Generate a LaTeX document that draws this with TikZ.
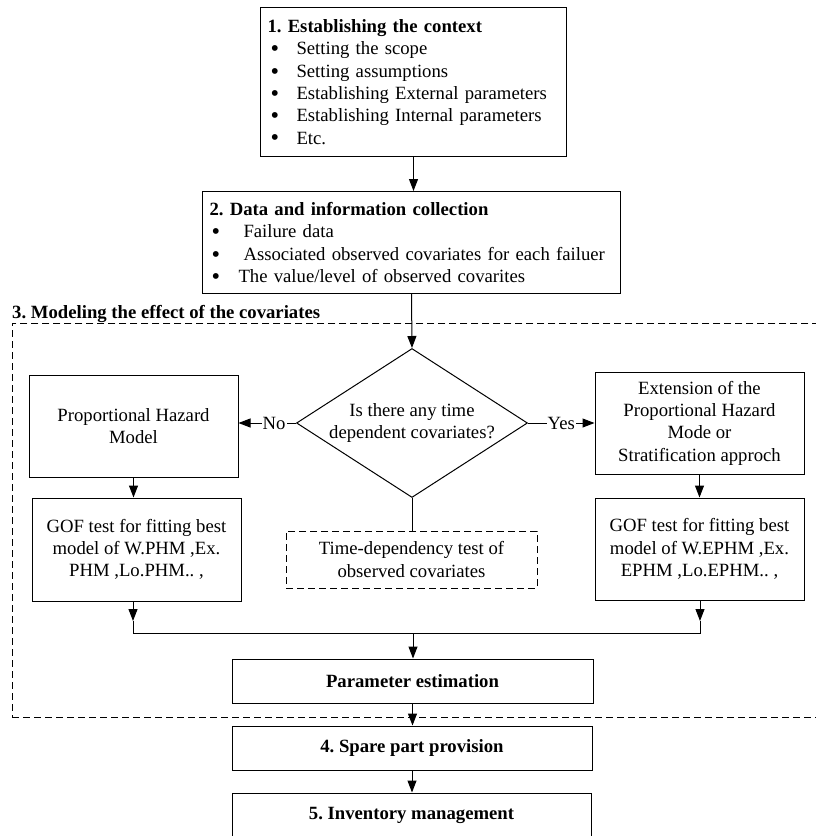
\documentclass[tikz,border=0pt]{standalone}
\usepackage{fontspec}
\setmainfont{Liberation Serif}
\usetikzlibrary{shapes.geometric,arrows.meta}
\newcommand{\myfs}{\fontsize{18.7}{22.3}\selectfont\frenchspacing}
\newcommand{\mybul}{\smash{\raisebox{-0.1em}{\scalebox{1.3}{\textbullet}}}}
\begin{document}
\begin{tikzpicture}[x=1pt,y=-1pt,
  box/.style={draw, line width=1pt, rectangle, inner sep=0pt, align=center, font=\myfs},
  listbox/.style={box, align=left, inner xsep=7pt, anchor=north west},
  dbox/.style={box, dash pattern=on 7pt off 4pt},
  arr/.style={line width=1pt, -{Triangle[length=12pt,width=9pt]}},
  ln/.style={line width=1pt},
  lbl/.style={fill=white, inner sep=1pt, font=\myfs}]
\useasboundingbox (0,0) rectangle (816,836);

% dashed group frame
\node[draw, line width=0.9pt, dash pattern=on 7pt off 4pt, rectangle, inner sep=0pt,
      minimum width=806pt, minimum height=394pt, anchor=north west] (grp) at (12,323) {};
\node[anchor=base west, inner sep=0pt, font=\myfs\bfseries] (t3) at (12,318)
  {3. Modeling the effect of the covariates};

% step 1
\node[listbox, text width=292pt, minimum height=149pt] (b1) at (260,7)
  {\textbf{1. Establishing the context}\\
   \hspace*{3pt}\makebox[26pt][l]{\mybul}Setting the scope\\
   \hspace*{3pt}\makebox[26pt][l]{\mybul}Setting assumptions\\
   \hspace*{3pt}\makebox[26pt][l]{\mybul}Establishing External parameters\\
   \hspace*{3pt}\makebox[26pt][l]{\mybul}Establishing Internal parameters\\
   \hspace*{3pt}\makebox[26pt][l]{\mybul}Etc.};

% step 2
\node[listbox, text width=404pt, minimum height=102pt] (b2) at (202,191)
  {\textbf{2. Data and information collection}\\
   \hspace*{2pt}\makebox[32pt][l]{\mybul}Failure data\\
   \hspace*{2pt}\makebox[32pt][l]{\mybul}Associated observed covariates for each failuer\\
   \hspace*{2pt}\makebox[27pt][l]{\mybul}The value/level of observed covarites};

% decision
\node[draw, line width=1pt, diamond, inner sep=0pt, aspect=1.55, align=center, font=\myfs,
      minimum width=231pt, minimum height=149pt] (dia) at (412,423)
  {Is there any time\\dependent covariates?};

\node[box, minimum width=209pt, minimum height=102pt] (phm) at (133.5,426)
  {Proportional Hazard\\Model};
\node[box, minimum width=209pt, minimum height=103pt] (gofL) at (136.5,549.5)
  {GOF test for fitting best\\model of W.PHM ,Ex.\\PHM ,Lo.PHM.. ,};

\node[box, minimum width=209pt, minimum height=102pt] (ext) at (699.5,423)
  {Extension of the\\Proportional Hazard\\Mode or\\Stratification approch};
\node[box, minimum width=209pt, minimum height=102pt] (gofR) at (699.5,549)
  {GOF test for fitting best\\model of W.EPHM ,Ex.\\EPHM ,Lo.EPHM.. ,};

\node[dbox, minimum width=251pt, minimum height=57pt] (tdt) at (411.5,559.5)
  {Time-dependency test of\\observed covariates};

\node[box, minimum width=361pt, minimum height=44pt, font=\myfs\bfseries] (param) at (412.5,681)
  {Parameter estimation};
\node[box, minimum width=360pt, minimum height=44pt, font=\myfs\bfseries] (spare) at (412,748)
  {4. Spare part provision};
\node[box, minimum width=359pt, minimum height=44pt, font=\myfs\bfseries] (inv) at (411.5,815)
  {5. Inventory management};

% connectors
\draw[arr] (b1.south) -- (b1.south |- b2.north);
\draw[arr] (b2.south) -- (dia.north);
\draw[arr] (dia.west) -- node[lbl, pos=0.38] {No} (dia.west -| phm.east);
\draw[arr] (dia.east) -- node[lbl, pos=0.5] {Yes} (dia.east -| ext.west);
\draw[ln] (dia.south) -- (dia.south |- tdt.north);
\draw[arr] (phm.south) -- (phm.south |- gofL.north);
\draw[arr] (ext.south) -- (ext.south |- gofR.north);

\coordinate (tL) at (133,621);
\coordinate (jL) at (133,633);
\coordinate (jR) at (700,633);
\coordinate (tR) at (700,621);
\coordinate (jM) at (413,633);
\draw[arr] (gofL.south -| tL) -- (tL);
\draw[arr] (gofR.south -| tR) -- (tR);
\draw[ln] (tL) -- (jL) -- (jR) -- (tR);
\draw[arr] (jM) -- (jM |- param.north);
\draw[arr] (param.south) -- (param.south |- spare.north);
\draw[arr] (spare.south) -- (spare.south |- inv.north);
\end{tikzpicture}
\end{document}
